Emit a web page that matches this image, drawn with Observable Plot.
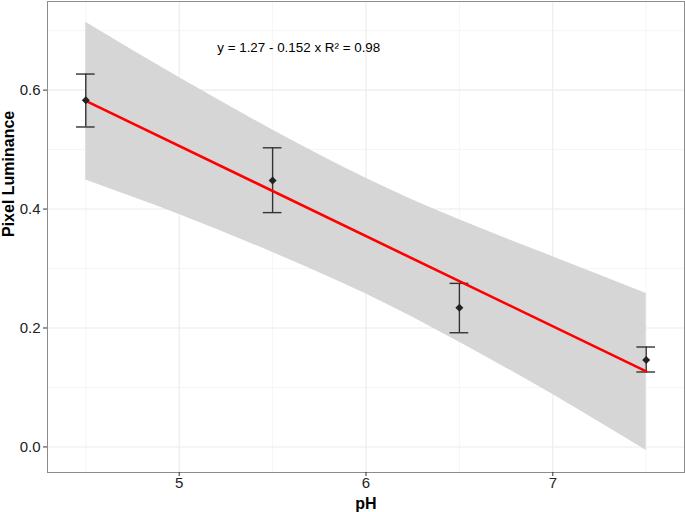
<!DOCTYPE html>
<html>
<head>
<meta charset="utf-8">
<script src="https://cdn.jsdelivr.net/npm/d3@7"></script>
<script src="https://cdn.jsdelivr.net/npm/@observablehq/plot@0.6"></script>
<style>
  html, body { margin: 0; padding: 0; background: #fff; }
  #chart svg { display: block; }
</style>
</head>
<body>
<div id="chart"></div>
<script>
// Group means with error bars
const phLevels = [4.5, 5.5, 6.5, 7.5];
const lumMean  = [0.583, 0.448, 0.234, 0.146];
const lumLow   = [0.538, 0.394, 0.192, 0.126];
const lumHigh  = [0.627, 0.503, 0.275, 0.168];

// Fitted regression line (endpoints)
const fitX = [4.5, 7.5];
const fitY = [0.582, 0.127];

// Confidence band
const bandX    = [4.5, 5.0, 5.5, 6.0, 6.5, 7.0, 7.5];
const bandLow  = [0.449, 0.391, 0.327, 0.257, 0.176, 0.088, -0.006];
const bandHigh = [0.714, 0.621, 0.533, 0.452, 0.382, 0.320, 0.258];

// Axis ticks and grid
const xTicks = [5, 6, 7];
const yTicks = [0, 0.2, 0.4, 0.6];
const xMinor = [4.5, 5.5, 6.5, 7.5];
const yMinor = [0.1, 0.3, 0.5, 0.7];

const annotation = "y = 1.27 - 0.152 x R\u00B2 = 0.98";
const annotX = 5.64, annotY = 0.672;
const xTitle = "pH";
const yTitle = "Pixel Luminance";

const points = phLevels.map((x, i) => ({x, mean: lumMean[i], lo: lumLow[i], hi: lumHigh[i]}));
const band = bandX.map((x, i) => ({x, lo: bandLow[i], hi: bandHigh[i]}));
const fit = fitX.map((x, i) => ({x, y: fitY[i]}));
const capHalf = 0.05;

const font = "'Liberation Sans', Arial, Helvetica, sans-serif";

const plot = Plot.plot({
  width: 685,
  height: 512,
  marginLeft: 47,
  marginRight: 1,
  marginTop: 1,
  marginBottom: 40,
  style: {fontFamily: font, background: "#fff", color: "#222"},
  x: {domain: [4.295, 7.705]},
  y: {domain: [-0.043, 0.749]},
  marks: [
    Plot.ruleX(xMinor, {stroke: "#f5f5f5", strokeWidth: 1}),
    Plot.ruleY(yMinor, {stroke: "#f5f5f5", strokeWidth: 1}),
    Plot.ruleX(xTicks, {stroke: "#ebebeb", strokeWidth: 1.1}),
    Plot.ruleY(yTicks, {stroke: "#ebebeb", strokeWidth: 1.1}),
    Plot.areaY(band, {x: "x", y1: "lo", y2: "hi", fill: "#d6d6d6", curve: "natural"}),
    Plot.ruleX(points, {x: "x", y1: "lo", y2: "hi", stroke: "#333", strokeWidth: 1.4}),
    Plot.ruleY(points, {y: "hi", x1: d => d.x - capHalf, x2: d => d.x + capHalf, stroke: "#333", strokeWidth: 1.4}),
    Plot.ruleY(points, {y: "lo", x1: d => d.x - capHalf, x2: d => d.x + capHalf, stroke: "#333", strokeWidth: 1.4}),
    Plot.line(fit, {x: "x", y: "y", stroke: "#ff0000", strokeWidth: 2.6}),
    Plot.dot(points, {x: "x", y: "mean", symbol: "diamond2", r: 3.6, fill: "#222", stroke: "none"}),
    Plot.text([annotation], {x: annotX, y: annotY, text: d => d, fontSize: 13.4, fill: "#000", textAnchor: "middle"}),
    Plot.frame({stroke: "#8c8c8c", strokeWidth: 1}),
    Plot.axisX({ticks: xTicks, tickSize: 4, tickPadding: 1, fontSize: 15, label: null, tickFormat: d => String(d), stroke: "#333", fill: "#222"}),
    Plot.axisY({ticks: yTicks, tickSize: 4, tickPadding: 3, fontSize: 15, label: null, tickFormat: d3.format(".1f"), stroke: "#333", fill: "#222"}),
    Plot.text([xTitle], {frameAnchor: "bottom", dy: 31, text: d => d, fontSize: 16, fontWeight: "bold", fill: "#000", lineAnchor: "middle"}),
    Plot.text([yTitle], {frameAnchor: "left", dx: -39, rotate: -90, text: d => d, fontSize: 16, fontWeight: "bold", fill: "#000", lineAnchor: "middle"})
  ]
});
document.getElementById("chart").appendChild(plot);
</script>
</body>
</html>
